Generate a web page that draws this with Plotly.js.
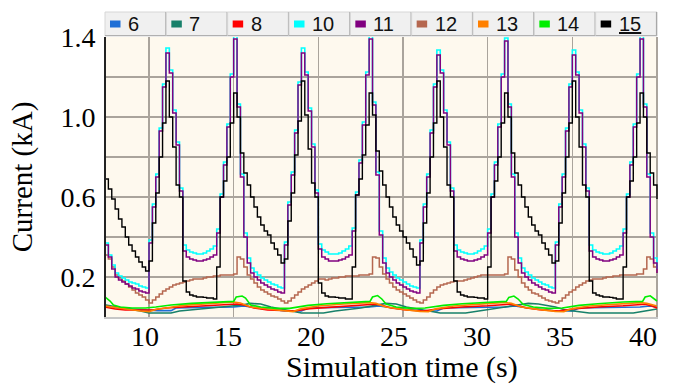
<!DOCTYPE html>
<html><head><meta charset="utf-8">
<script src="https://cdn.plot.ly/plotly-3.0.1.min.js"></script>
<style>html,body{margin:0;padding:0;background:#fff;}#chart{width:686px;height:387px;}</style>
</head><body><div id="chart"></div>
<script>
// ---------- DATA ----------
const time = [7.4,7.6,7.8,8,8.2,8.4,8.6,8.8,9,9.2,9.4,9.6,9.8,
10,10.2,10.4,10.6,10.8,11,11.2,11.4,11.6,11.8,12,12.2,12.4,12.6,12.8,13,13.2,13.4,13.6,13.8,14,14.2,14.4,14.6,14.8,15,15.2,15.4,15.6,15.8,16,16.2,16.4,16.6,16.8,17,17.2,17.4,17.6,17.8,
18,18.2,18.4,18.6,18.8,19,19.2,19.4,19.6,19.8,20,20.2,20.4,20.6,20.8,21,21.2,21.4,21.6,21.8,22,22.2,22.4,22.6,22.8,23,23.2,23.4,23.6,23.8,24,24.2,24.4,24.6,24.8,25,25.2,25.4,25.6,25.8,
26,26.2,26.4,26.6,26.8,27,27.2,27.4,27.6,27.8,28,28.2,28.4,28.6,28.8,29,29.2,29.4,29.6,29.8,30,30.2,30.4,30.6,30.8,31,31.2,31.4,31.6,31.8,32,32.2,32.4,32.6,32.8,33,33.2,33.4,33.6,33.8,
34,34.2,34.4,34.6,34.8,35,35.2,35.4,35.6,35.8,36,36.2,36.4,36.6,36.8,37,37.2,37.4,37.6,37.8,38,38.2,38.4,38.6,38.8,39,39.2,39.4,39.6,39.8,40];

const s10 = [0.37,0.31,0.26,0.22,0.205,0.195,0.185,0.175,0.17,0.165,0.155,0.15,0.145,
0.385,0.565,0.715,0.945,1.165,1.345,1.235,1.035,0.875,0.645,0.36,0.335,0.325,0.32,0.315,0.315,0.32,0.33,0.34,0.355,
0.44,0.615,0.775,0.965,1.215,1.405,1.065,0.715,0.42,0.295,0.245,0.225,0.21,0.195,0.185,0.175,0.165,0.16,0.15,0.145,
0.375,0.575,0.725,0.935,1.175,1.345,1.225,1.045,0.865,0.635,0.365,0.335,0.325,0.315,0.315,0.315,0.32,0.33,0.34,0.355,
0.445,0.625,0.785,0.975,1.225,1.41,1.075,0.725,0.43,0.295,0.245,0.225,0.21,0.195,0.185,0.175,0.165,0.155,0.15,0.145,
0.385,0.565,0.715,0.935,1.165,1.335,1.235,1.035,0.875,0.645,0.36,0.335,0.325,0.32,0.315,0.315,0.32,0.33,0.34,0.355,
0.44,0.615,0.775,0.965,1.215,1.395,1.065,0.715,0.42,0.295,0.245,0.225,0.21,0.195,0.185,0.175,0.165,0.16,0.15,0.145,
0.375,0.565,0.715,0.945,1.165,1.335,1.225,1.035,0.865,0.645,0.36,0.335,0.325,0.32,0.315,0.315,0.32,0.33,0.34,0.355,
0.44,0.615,0.775,0.965,1.215,1.405,1.065,0.715,0.42,0.295,0.24];

const s11 = [0.36,0.30,0.24,0.20,0.185,0.175,0.165,0.155,0.145,0.14,0.13,0.125,0.12,
0.37,0.55,0.70,0.93,1.15,1.32,1.22,1.02,0.86,0.63,0.33,0.30,0.29,0.285,0.28,0.28,0.285,0.29,0.30,0.31,
0.42,0.60,0.76,0.95,1.20,1.39,1.05,0.70,0.40,0.27,0.22,0.20,0.185,0.17,0.16,0.15,0.14,0.135,0.125,0.12,
0.36,0.56,0.71,0.92,1.16,1.32,1.21,1.03,0.85,0.62,0.34,0.30,0.29,0.28,0.28,0.28,0.285,0.29,0.30,0.31,
0.43,0.61,0.77,0.96,1.21,1.39,1.06,0.71,0.41,0.27,0.22,0.20,0.185,0.17,0.16,0.15,0.14,0.13,0.125,0.12,
0.37,0.55,0.70,0.92,1.15,1.31,1.22,1.02,0.86,0.63,0.33,0.30,0.29,0.285,0.28,0.28,0.285,0.29,0.30,0.31,
0.42,0.60,0.76,0.95,1.20,1.38,1.05,0.70,0.40,0.27,0.22,0.20,0.185,0.17,0.16,0.15,0.14,0.135,0.125,0.12,
0.36,0.55,0.70,0.93,1.15,1.31,1.21,1.02,0.85,0.63,0.33,0.30,0.29,0.285,0.28,0.28,0.285,0.29,0.30,0.31,
0.42,0.60,0.76,0.95,1.20,1.39,1.05,0.70,0.40,0.27,0.22];

const s15 = [0.69,0.64,0.59,0.54,0.49,0.45,0.40,0.36,0.33,0.30,0.275,0.25,0.23,
0.28,0.47,0.62,0.80,0.97,1.18,1.00,0.85,0.66,0.60,0.18,0.125,0.11,0.105,0.10,0.10,0.098,0.095,0.095,0.09,
0.25,0.60,0.68,0.80,0.97,1.12,1.00,0.82,0.72,0.66,0.60,0.55,0.50,0.46,0.43,0.41,0.37,0.34,0.31,0.27,
0.29,0.48,0.62,0.81,0.98,1.18,1.01,0.84,0.67,0.60,0.17,0.12,0.105,0.10,0.10,0.098,0.095,0.095,0.09,0.09,
0.25,0.61,0.69,0.81,0.96,1.12,1.01,0.83,0.73,0.66,0.60,0.55,0.50,0.46,0.43,0.40,0.37,0.34,0.30,0.26,
0.28,0.47,0.62,0.80,0.97,1.18,1.00,0.85,0.66,0.60,0.18,0.125,0.11,0.105,0.10,0.10,0.098,0.095,0.095,0.09,
0.25,0.60,0.68,0.80,0.97,1.12,1.00,0.82,0.72,0.66,0.60,0.55,0.50,0.46,0.43,0.41,0.37,0.34,0.31,0.27,
0.28,0.47,0.62,0.80,0.97,1.18,1.00,0.85,0.66,0.60,0.18,0.12,0.11,0.105,0.10,0.10,0.098,0.095,0.09,0.09,
0.25,0.60,0.68,0.80,0.97,1.12,1.00,0.82,0.72,0.66,0.59];

const s12 = [0.31,0.29,0.25,0.21,0.195,0.18,0.165,0.15,0.135,0.12,0.11,0.10,0.085,
0.07,0.085,0.10,0.115,0.13,0.14,0.15,0.16,0.165,0.17,0.175,0.18,0.185,0.19,0.19,0.19,0.195,0.20,0.20,0.205,
0.205,0.21,0.21,0.21,0.21,0.215,0.30,0.29,0.25,0.21,0.19,0.17,0.15,0.135,0.125,0.115,0.105,0.10,0.09,0.08,
0.07,0.08,0.095,0.11,0.125,0.14,0.15,0.16,0.17,0.18,0.19,0.19,0.185,0.19,0.195,0.195,0.20,0.20,0.205,0.205,
0.205,0.205,0.21,0.21,0.21,0.215,0.30,0.295,0.25,0.215,0.19,0.17,0.15,0.135,0.125,0.115,0.105,0.095,0.085,0.075,
0.07,0.085,0.10,0.12,0.135,0.15,0.16,0.165,0.17,0.175,0.18,0.18,0.18,0.185,0.19,0.195,0.20,0.205,0.21,0.21,
0.21,0.21,0.21,0.21,0.21,0.215,0.30,0.29,0.235,0.20,0.17,0.15,0.135,0.12,0.115,0.105,0.095,0.085,0.08,0.075,
0.07,0.08,0.095,0.11,0.125,0.135,0.15,0.16,0.17,0.18,0.185,0.19,0.19,0.19,0.195,0.20,0.20,0.205,0.205,0.21,
0.21,0.21,0.21,0.21,0.215,0.215,0.24,0.30,0.29,0.25,0.22];

const t14 = [7.4,7.7,7.9,8.3,9.0,9.8,10.4,11.3,12.5,14.0,15.0,15.15,15.5,15.7,16.0,16.6,17.5,18.3,19.4,20.5,22.0,23.05,23.2,23.5,23.75,24.0,24.6,25.5,26.3,27.4,28.5,30.0,31.1,31.25,31.55,31.8,32.1,32.7,33.6,34.4,35.4,36.5,38.0,39.15,39.3,39.6,39.85,40.0];
const s14 = [0.10,0.08,0.06,0.05,0.045,0.045,0.05,0.06,0.068,0.075,0.078,0.10,0.105,0.095,0.06,0.05,0.043,0.043,0.058,0.066,0.075,0.078,0.10,0.107,0.09,0.065,0.05,0.043,0.045,0.058,0.066,0.074,0.078,0.098,0.105,0.09,0.062,0.05,0.043,0.045,0.058,0.066,0.075,0.078,0.10,0.106,0.09,0.08];

const t13 = [7.4,8.5,9.5,10.0,10.5,11.0,12.0,13.5,15.0,15.4,16.0,17.0,18.0,18.5,19.0,20.0,21.5,23.0,23.4,24.0,25.0,26.0,26.5,27.0,28.0,29.5,31.0,31.4,32.0,33.0,34.0,34.5,35.0,36.0,37.5,39.0,39.4,40.0];
const s13 = [0.055,0.04,0.03,0.027,0.04,0.045,0.058,0.066,0.075,0.07,0.05,0.04,0.03,0.027,0.042,0.055,0.065,0.072,0.068,0.05,0.038,0.028,0.027,0.042,0.055,0.065,0.073,0.068,0.05,0.038,0.028,0.027,0.042,0.055,0.065,0.072,0.068,0.055];

const t8 = [7.4,8.0,8.6,9.5,10.2,11.0,12.5,14.0,15.2,15.6,16.2,17.0,18.0,18.6,19.5,21.0,22.5,23.3,23.7,24.3,25.2,26.2,27.0,28.5,30.0,31.3,31.7,32.3,33.2,34.2,35.0,36.5,38.0,39.3,39.7,40.0];
const s8 = [0.05,0.04,0.035,0.035,0.035,0.045,0.052,0.058,0.065,0.06,0.045,0.035,0.03,0.03,0.042,0.05,0.056,0.064,0.06,0.045,0.035,0.03,0.04,0.05,0.056,0.064,0.058,0.045,0.035,0.03,0.04,0.05,0.056,0.064,0.055,0.045];

const t6 = [7.4,8.0,9.0,10.0,10.5,11.3,11.6,13.0,15.0,15.6,16.4,17.6,18.0,19.0,19.4,21.0,23.0,23.6,24.4,25.6,26.0,27.0,27.4,29.0,31.0,31.6,32.4,33.6,34.0,35.0,35.4,37.0,39.0,39.6,40.0];
const s6 = [0.055,0.045,0.04,0.035,0.032,0.032,0.045,0.048,0.05,0.055,0.045,0.035,0.03,0.03,0.045,0.048,0.05,0.055,0.045,0.035,0.03,0.03,0.045,0.048,0.05,0.055,0.045,0.035,0.03,0.03,0.045,0.048,0.05,0.055,0.05];

const t7 = [7.4,8.5,9.5,10.0,11.3,11.8,13.0,14.5,15.5,16.0,16.6,17.2,18.2,19.0,20.3,21.0,22.5,23.6,24.0,24.6,25.2,26.2,27.2,28.7,29.5,30.8,31.8,32.4,33.0,34.0,34.6,36.0,37.0,38.6,39.3,40.0];
const s7 = [0.06,0.045,0.03,0.02,0.02,0.03,0.04,0.05,0.06,0.068,0.065,0.05,0.035,0.02,0.02,0.03,0.045,0.06,0.068,0.065,0.05,0.035,0.02,0.02,0.03,0.045,0.06,0.068,0.065,0.05,0.035,0.02,0.02,0.02,0.03,0.04];

const legendNames = ['6','7','8','10','11','12','13','14','15'];
const legendColors = ['#1e6fd6','#17806a','#ff0000','#00ffff','#800080','#b5674f','#ff8000','#00ee00','#000000'];
const xTickVals = [10,15,20,25,30,35,40];
const yTickVals = [0.2,0.6,1.0,1.4];
const yTickText = ['0.2','0.6','1.0','1.4'];
const yMinorGrid = [0.4,0.8,1.2];
const xTitle = 'Simulation time (s)';
const yTitle = 'Current (kA)';

// ---------- TRACES ----------
function tr(x, y, color, shape, w) {
  return {x: x, y: y, type: 'scatter', mode: 'lines', showlegend: false, hoverinfo: 'skip',
          line: {color: color, width: w, shape: shape}};
}
const traces = [
  tr(t6, s6, legendColors[0], 'linear', 1.6),
  tr(t7, s7, legendColors[1], 'linear', 1.6),
  tr(t8, s8, legendColors[2], 'linear', 1.6),
  tr(t13, s13, legendColors[6], 'linear', 1.6),
  tr(t14, s14, legendColors[7], 'linear', 1.6),
  tr(time, s12, legendColors[5], 'hv', 1.5),
  tr(time, s10, legendColors[3], 'hv', 1.6),
  tr(time, s11, legendColors[4], 'hv', 1.5),
  tr(time, s15, legendColors[8], 'hv', 1.4),
  {x: [], y: [], xaxis: 'x2', type: 'scatter', mode: 'lines', showlegend: false, hoverinfo: 'skip'}
];

// ---------- LAYOUT ----------
const L = 106, R = 658, T = 37, B = 317;
const W = R - L, H = B - T;
const pxX = v => (v - L) / W;
const pxY = v => (B - v) / H;
const gridCol = '#aaa49c';
const serif = 'Liberation Serif, Times New Roman, serif';

const shapes = [];
const annotations = [];
const bx0 = 105, bw = (657 - 105) / 9, byTop = 12, byBot = 36;
legendNames.forEach((nm, i) => {
  const a = bx0 + i * bw, b = a + bw;
  shapes.push({type: 'rect', xref: 'paper', yref: 'paper', x0: pxX(a), x1: pxX(b), y0: pxY(byBot), y1: pxY(byTop),
               fillcolor: '#f0f0f0', line: {color: '#d6d6d6', width: 1}});
  shapes.push({type: 'line', xref: 'paper', yref: 'paper', x0: pxX(b - 0.5), x1: pxX(b - 0.5), y0: pxY(byBot), y1: pxY(byTop),
               line: {color: '#a8a8a8', width: 1.2}});
  shapes.push({type: 'line', xref: 'paper', yref: 'paper', x0: pxX(a), x1: pxX(b), y0: pxY(byBot - 0.5), y1: pxY(byBot - 0.5),
               line: {color: '#b0b0b0', width: 1.2}});
  shapes.push({type: 'rect', xref: 'paper', yref: 'paper', x0: pxX(a + 5), x1: pxX(a + 15.5), y0: pxY(27.5), y1: pxY(20.5),
               fillcolor: legendColors[i], line: {width: 0}});
  annotations.push({xref: 'paper', yref: 'paper', x: pxX(a + 21), y: pxY(24.5), xanchor: 'left', yanchor: 'middle',
                    text: nm, showarrow: false,
                    font: {family: 'Liberation Sans Narrow, Liberation Sans, Arial, sans-serif', size: 20, color: '#111',
                           lineposition: nm === '15' ? 'under' : 'none'}});
});
// x-axis title, centred where the reference prints it
annotations.push({xref: 'paper', yref: 'paper', x: pxX(402), y: pxY(386), xanchor: 'center', yanchor: 'bottom',
                  text: xTitle, showarrow: false, font: {family: serif, size: 30, color: '#000'}});

const layout = {
  width: 686, height: 387,
  margin: {l: L, r: 686 - R, t: T, b: 387 - B, pad: 0},
  paper_bgcolor: '#ffffff',
  plot_bgcolor: '#fef9ee',
  showlegend: false,
  xaxis: {
    range: [7.46, 40.06], tickmode: 'array', tickvals: xTickVals, showticklabels: false,
    showgrid: true, gridcolor: gridCol, gridwidth: 1.6, zeroline: false,
    showline: true, linecolor: '#c6c6c6', linewidth: 2, ticks: '', fixedrange: true
  },
  xaxis2: {
    overlaying: 'x', anchor: 'y', side: 'bottom',
    range: [7.651, 40.904], tickmode: 'array', tickvals: xTickVals,
    showgrid: false, zeroline: false, showline: false, ticks: '',
    tickfont: {family: serif, size: 28, color: '#000'}, ticklabelstandoff: 0
  },
  yaxis: {
    range: [0, 1.4], tickmode: 'array', tickvals: yTickVals, ticktext: yTickText,
    showgrid: true, gridcolor: gridCol, gridwidth: 1.6, zeroline: false,
    minor: {tickmode: 'array', tickvals: yMinorGrid, showgrid: true, gridcolor: gridCol, gridwidth: 1.6, ticks: ''},
    showline: true, linecolor: '#222222', linewidth: 2, ticks: '',
    tickfont: {family: serif, size: 28, color: '#000'}, ticklabelstandoff: 3,
    title: {text: yTitle, font: {family: serif, size: 29, color: '#000'}, standoff: 19}
  },
  shapes: shapes,
  annotations: annotations
};

Plotly.newPlot('chart', traces, layout, {displayModeBar: false, staticPlot: true});
</script>
</body></html>
